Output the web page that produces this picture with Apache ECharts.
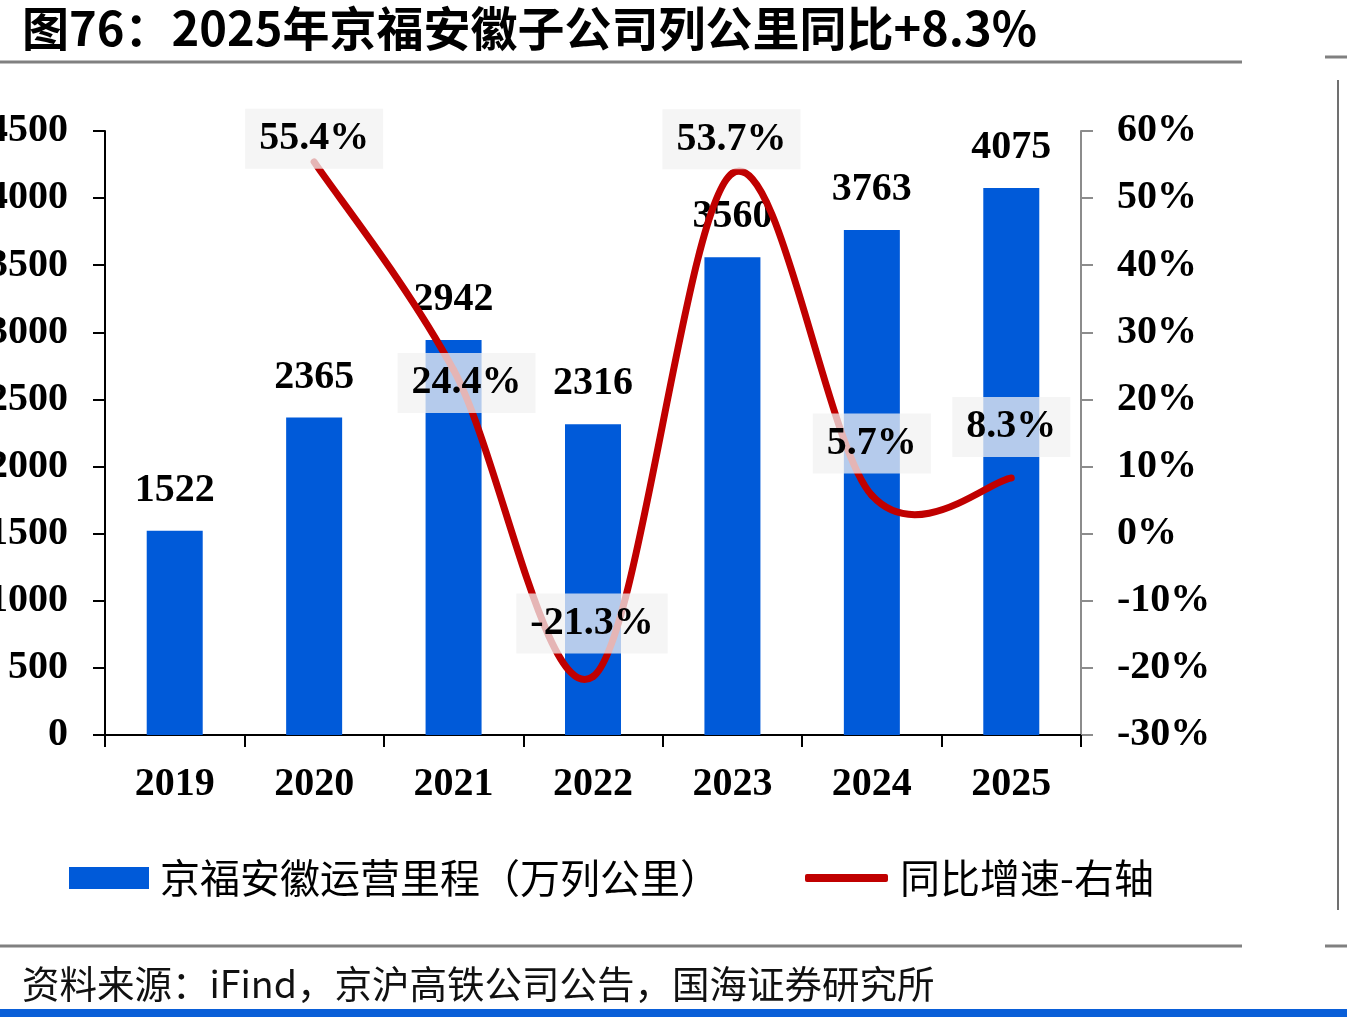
<!DOCTYPE html>
<html>
<head>
<meta charset="utf-8">
<script src="https://cdn.jsdelivr.net/npm/echarts@6/dist/echarts.min.js"></script>
<style>
  html, body { margin: 0; padding: 0; background: #fff; }
  #chart { width: 1347px; height: 1017px; }
</style>
</head>
<body>
<div id="chart"></div>
<script>
// 年份、运营里程（万列公里）、同比增速（%）
var years = ['2019', '2020', '2021', '2022', '2023', '2024', '2025'];
var mileage = [1522, 2365, 2942, 2316, 3560, 3763, 4075];
var yoy = [null, 55.4, 24.4, -21.3, 53.7, 5.7, 8.3];
// 同比标签相对数据点的偏移（像素）
var yoyLabelOffsets = [[0, 0], [0, -23], [13, 13], [-1, -53], [-1, -34], [0, -52], [0, -51]];

var numFont = '"Liberation Serif", "Times New Roman", serif';
var cjkFont = '"Noto Sans CJK SC", sans-serif';
var red = '#c00000';

var chart = echarts.init(document.getElementById('chart'), null, { renderer: 'canvas' });

var yoyData = yoy.map(function (v, i) {
    if (v === null) return '-';
    return { value: v, label: { offset: yoyLabelOffsets[i] } };
});

// Excel 式平滑曲线：每段用 Catmull-Rom 控制点（1/6），由轴坐标换算
function pt(api, i) {
    return api.coord([i, yoy[i]]);
}
function renderCurve(params, api) {
    var i = params.dataIndex;
    var n = yoy.length;
    if (i + 1 >= n || yoy[i] === null || yoy[i + 1] === null) return null;
    var p1 = pt(api, i), p2 = pt(api, i + 1);
    var p0 = (i - 1 >= 0 && yoy[i - 1] !== null) ? pt(api, i - 1) : p1;
    var p3 = (i + 2 < n && yoy[i + 2] !== null) ? pt(api, i + 2) : p2;
    return {
        type: 'bezierCurve',
        shape: {
            x1: p1[0], y1: p1[1], x2: p2[0], y2: p2[1],
            cpx1: p1[0] + (p2[0] - p0[0]) / 6, cpy1: p1[1] + (p2[1] - p0[1]) / 6,
            cpx2: p2[0] - (p3[0] - p1[0]) / 6, cpy2: p2[1] - (p3[1] - p1[1]) / 6
        },
        style: { stroke: red, lineWidth: 7, fill: null, lineCap: 'round' }
    };
}

var option = {
    backgroundColor: '#ffffff',
    animation: false,
    grid: { left: 105, right: 266, top: 131, bottom: 282, containLabel: false, outerBoundsMode: 'none' },
    legend: [
        {
            left: 69, top: 858, padding: 0,
            itemWidth: 80, itemHeight: 22,
            icon: 'rect',
            data: ['京福安徽运营里程（万列公里）'],
            textStyle: { fontFamily: cjkFont, fontSize: 40, color: '#000', padding: [0, 0, 0, 6] }
        },
        {
            left: 805, top: 858, padding: 0,
            itemWidth: 83, itemHeight: 8,
            icon: 'roundRect',
            data: [{ name: '同比增速-右轴', itemStyle: { color: red } }],
            textStyle: { fontFamily: cjkFont, fontSize: 40, color: '#000', padding: [0, 0, 0, 7] }
        }
    ],
    xAxis: {
        type: 'category',
        data: years,
        boundaryGap: true,
        axisLine: { lineStyle: { color: '#000', width: 2 } },
        axisTick: { show: true, length: 12, lineStyle: { color: '#000', width: 2 } },
        axisLabel: { margin: 30, fontFamily: numFont, fontWeight: 'bold', fontSize: 40, color: '#000' }
    },
    yAxis: [
        {
            type: 'value', min: 0, max: 4500, interval: 500,
            splitLine: { show: false },
            axisLine: { show: true, lineStyle: { color: '#000', width: 2 } },
            axisTick: { show: true, length: 12, lineStyle: { color: '#000', width: 2 } },
            axisLabel: {
                margin: 37, formatter: function (v) { return String(v); },
                fontFamily: numFont, fontWeight: 'bold', fontSize: 40, color: '#000'
            }
        },
        {
            type: 'value', min: -30, max: 60, interval: 10,
            position: 'right',
            splitLine: { show: false },
            axisLine: { show: true, lineStyle: { color: '#8c8c8c', width: 2 } },
            axisTick: { show: true, length: 12, lineStyle: { color: '#8c8c8c', width: 2 } },
            axisLabel: { margin: 36, formatter: '{value}%', fontFamily: numFont, fontWeight: 'bold', fontSize: 40, color: '#000' }
        }
    ],
    series: [
        {
            name: '京福安徽运营里程（万列公里）',
            type: 'bar',
            barWidth: 56,
            itemStyle: { color: '#005ad9' },
            label: {
                show: true, position: 'top', distance: 20,
                fontFamily: numFont, fontWeight: 'bold', fontSize: 40, color: '#000'
            },
            data: mileage
        },
        {
            name: '同比增速曲线',
            type: 'custom',
            yAxisIndex: 1,
            z: 5,
            renderItem: renderCurve,
            encode: { x: 0, y: 1 },
            data: yoy.map(function (v, i) { return [i, v === null ? '-' : v]; })
        },
        {
            name: '同比增速-右轴',
            type: 'line',
            yAxisIndex: 1,
            symbol: 'circle',
            symbolSize: 0.01,
            showSymbol: true,
            z: 6,
            itemStyle: { color: red },
            lineStyle: { color: red, width: 0, opacity: 0 },
            label: {
                show: true, position: 'inside',
                formatter: function (p) { return p.value + '%'; },
                fontFamily: numFont, fontWeight: 'bold', fontSize: 40, color: '#000',
                lineHeight: 40,
                backgroundColor: 'rgba(242,242,242,0.75)',
                padding: [10, 14]
            },
            data: yoyData
        }
    ],
    graphic: [
        {
            type: 'text', left: 22, top: 5,
            style: { text: '图76：2025年京福安徽子公司列公里同比+8.3%', fontFamily: cjkFont, fontWeight: 'bold', fontSize: 47, fill: '#000' }
        },
        { type: 'line', shape: { x1: 0, y1: 62, x2: 1242, y2: 62 }, style: { stroke: '#808080', lineWidth: 3 } },
        { type: 'line', shape: { x1: 1325, y1: 57, x2: 1347, y2: 57 }, style: { stroke: '#808080', lineWidth: 3 } },
        { type: 'line', shape: { x1: 1338, y1: 80, x2: 1338, y2: 910 }, style: { stroke: '#707070', lineWidth: 2 } },
        { type: 'line', shape: { x1: 0, y1: 946, x2: 1242, y2: 946 }, style: { stroke: '#808080', lineWidth: 3 } },
        { type: 'line', shape: { x1: 1325, y1: 946, x2: 1347, y2: 946 }, style: { stroke: '#808080', lineWidth: 3 } },
        {
            type: 'text', left: 22, top: 965,
            style: { text: '资料来源：iFind，京沪高铁公司公告，国海证券研究所', fontFamily: cjkFont, fontSize: 37.5, fill: '#111' }
        },
        { type: 'rect', shape: { x: 0, y: 1009, width: 1347, height: 8 }, style: { fill: '#0a5fd8' } }
    ]
};

chart.setOption(option);
</script>
</body>
</html>
